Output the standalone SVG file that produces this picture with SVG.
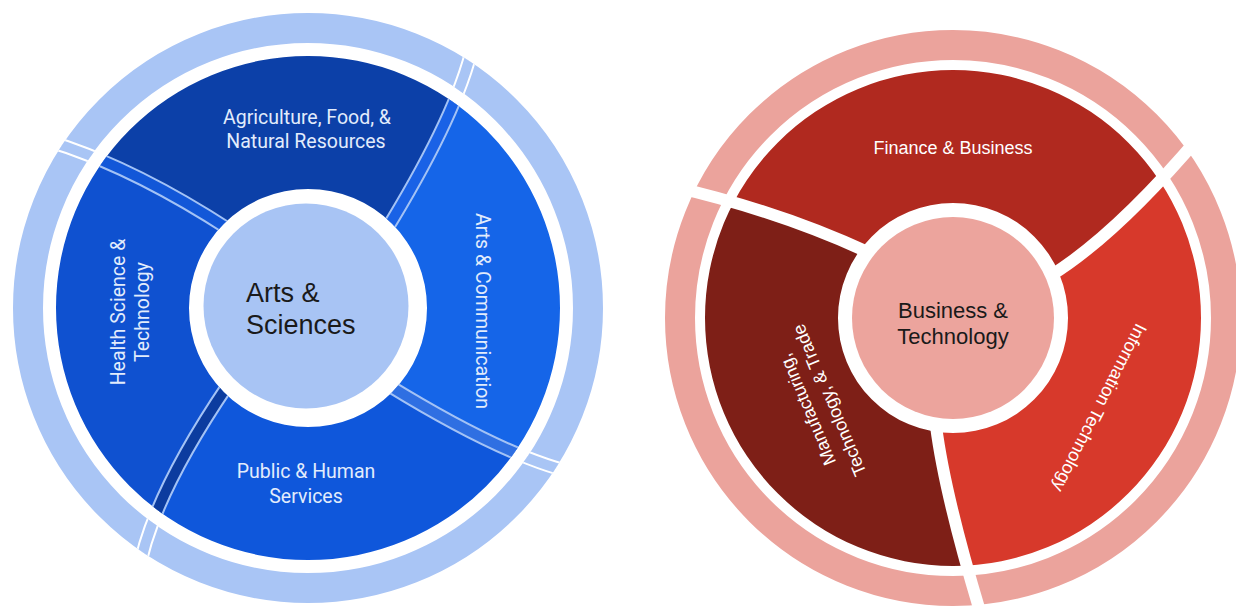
<svg xmlns="http://www.w3.org/2000/svg" width="1236" height="610" viewBox="0 0 1236 610">
  <style>
    .segTxtL { font-family: Roboto, "Liberation Sans", sans-serif; font-size: 19.5px; fill: #e2ecfc; text-anchor: middle; }
    .segTxtR { font-family: "Liberation Sans", Arial, sans-serif; font-size: 18px; fill: #ffffff; text-anchor: middle; }
    .centerTxt { font-family: "Liberation Sans", Arial, sans-serif; fill: #1a1a1a; }
    .bandLine { fill: none; stroke: #a3c2f5; stroke-width: 14; }
    .ringGap { fill: none; stroke: #ffffff; stroke-width: 14; }
    .ringFill { fill: none; stroke: #a9c5f5; stroke-width: 10; }
    .divR { fill: none; stroke: #ffffff; stroke-width: 12; }
  </style>
  <defs>
    <clipPath id="clipLSeg">
      <path clip-rule="evenodd" d="M56,308 A252,252 0 1 0 560,308 A252,252 0 1 0 56,308 Z M189,308 A119,119 0 1 0 427,308 A119,119 0 1 0 189,308 Z"/>
    </clipPath>
    <clipPath id="clipLRing">
      <path clip-rule="evenodd" d="M13,308 A295,295 0 1 0 603,308 A295,295 0 1 0 13,308 Z M43,308 A265,265 0 1 0 573,308 A265,265 0 1 0 43,308 Z"/>
    </clipPath>
    <clipPath id="clipRSeg">
      <path clip-rule="evenodd" d="M705,318 A248,248 0 1 0 1201,318 A248,248 0 1 0 705,318 Z M838,318 A115,115 0 1 0 1068,318 A115,115 0 1 0 838,318 Z"/>
    </clipPath>
  </defs>

  <!-- LEFT DIAGRAM -->
  <g id="left-ring">
    <circle cx="308" cy="308" r="280" fill="none" stroke="#a9c5f5" stroke-width="30"/>
    <g clip-path="url(#clipLRing)">
      <path class="ringGap" d="M385,232 Q460,110 474,40"/>
      <path class="ringFill" d="M385,232 Q460,110 474,40"/>
      <path class="ringGap" d="M230,230 Q130,165 45,140"/>
      <path class="ringFill" d="M230,230 Q130,165 45,140"/>
      <path class="ringGap" d="M228,385 Q150,500 138,575"/>
      <path class="ringFill" d="M228,385 Q150,500 138,575"/>
      <path class="ringGap" d="M388,385 Q510,460 580,474"/>
      <path class="ringFill" d="M388,385 Q510,460 580,474"/>
    </g>
  </g>

  <g clip-path="url(#clipLSeg)">
    <g id="seg-agriculture">
      <path fill="#0c40a8" d="M310,310 L230,230 Q130,165 45,140 L0,0 L500,0 L474,40 Q460,110 385,232 Z"/>
    </g>
    <g id="seg-arts-communication">
      <path fill="#1565e8" d="M310,310 L385,232 Q460,110 474,40 L620,0 L620,620 L580,474 Q510,460 388,385 Z"/>
    </g>
    <g id="seg-public-human">
      <path fill="#0f57db" d="M310,310 L388,385 Q510,460 580,474 L620,620 L0,620 L138,575 Q150,500 228,385 Z"/>
    </g>
    <g id="seg-health">
      <path fill="#0f51d0" d="M310,310 L228,385 Q150,500 138,575 L0,620 L0,0 L45,140 Q130,165 230,230 Z"/>
    </g>
    <g id="dividers-left">
      <path class="bandLine" d="M385,232 Q460,110 474,40"/>
      <path fill="none" stroke="#1a62e6" stroke-width="10" d="M385,232 Q460,110 474,40"/>
      <path class="bandLine" d="M230,230 Q130,165 45,140"/>
      <path fill="none" stroke="#1257d8" stroke-width="10" d="M230,230 Q130,165 45,140"/>
      <path class="bandLine" d="M228,385 Q150,500 138,575"/>
      <path fill="none" stroke="#0c3c9f" stroke-width="10" d="M228,385 Q150,500 138,575"/>
      <path class="bandLine" d="M388,385 Q510,460 580,474"/>
      <path fill="none" stroke="#2f6fe2" stroke-width="10" d="M388,385 Q510,460 580,474"/>
    </g>
  </g>

  <g id="label-agriculture">
    <text class="segTxtL" x="307" y="124">Agriculture, Food, &amp;</text>
    <text class="segTxtL" x="306" y="148">Natural Resources</text>
  </g>
  <g id="label-public-human">
    <text class="segTxtL" x="306" y="478">Public &amp; Human</text>
    <text class="segTxtL" x="306" y="503">Services</text>
  </g>
  <g id="label-health" transform="translate(130,312) rotate(-90)">
    <text class="segTxtL" x="0" y="-5.5">Health Science &amp;</text>
    <text class="segTxtL" x="0" y="18.5">Technology</text>
  </g>
  <g id="label-arts-communication" transform="translate(482,311) rotate(90)">
    <text class="segTxtL" x="0" y="6.5">Arts &amp; Communication</text>
  </g>

  <g id="center-arts-sciences">
    <circle cx="306" cy="306" r="102.5" fill="#a8c4f4"/>
    <text class="centerTxt" x="246" y="302" font-size="27">Arts &amp;</text>
    <text class="centerTxt" x="246" y="334" font-size="27">Sciences</text>
  </g>

  <!-- RIGHT DIAGRAM -->
  <g id="right-ring">
    <circle cx="953" cy="318" r="273" fill="none" stroke="#eba39c" stroke-width="30"/>
  </g>

  <g clip-path="url(#clipRSeg)">
    <g id="seg-finance-business">
      <path fill="#b0291f" d="M953,318 L872,254 Q780,211 670,186 L600,0 L1300,0 L1200,136 Q1115,236 1050,276 Z"/>
    </g>
    <g id="seg-information-technology">
      <path fill="#d7392b" d="M953,318 L1050,276 Q1115,236 1200,136 L1300,0 L1300,700 L990,700 L980,611 Q945,496 936,426 Z"/>
    </g>
    <g id="seg-manufacturing">
      <path fill="#7e1f17" d="M953,318 L936,426 Q945,496 980,611 L990,700 L600,700 L600,150 L670,186 Q780,211 872,254 Z"/>
    </g>
  </g>

  <g id="dividers-right">
    <path class="divR" d="M872,254 Q780,211 670,186"/>
    <path class="divR" d="M1050,276 Q1115,236 1200,136"/>
    <path class="divR" d="M936,426 Q945,496 982,618"/>
  </g>

  <g id="label-finance-business">
    <text class="segTxtR" x="953" y="154" font-size="18">Finance &amp; Business</text>
  </g>
  <g id="label-information-technology" transform="translate(1100,408) rotate(117)">
    <text class="segTxtR" x="0" y="6.5">Information Technology</text>
  </g>
  <g id="label-manufacturing" transform="translate(818,405) rotate(-113)">
    <text class="segTxtR" x="0" y="-5.5">Manufacturing,</text>
    <text class="segTxtR" x="0" y="18.5">Technology, &amp; Trade</text>
  </g>

  <g id="center-business-technology">
    <circle cx="953" cy="318" r="101" fill="#eca49d"/>
    <text class="centerTxt" x="953" y="318" font-size="22" text-anchor="middle">Business &amp;</text>
    <text class="centerTxt" x="953" y="344" font-size="22" text-anchor="middle">Technology</text>
  </g>
</svg>
